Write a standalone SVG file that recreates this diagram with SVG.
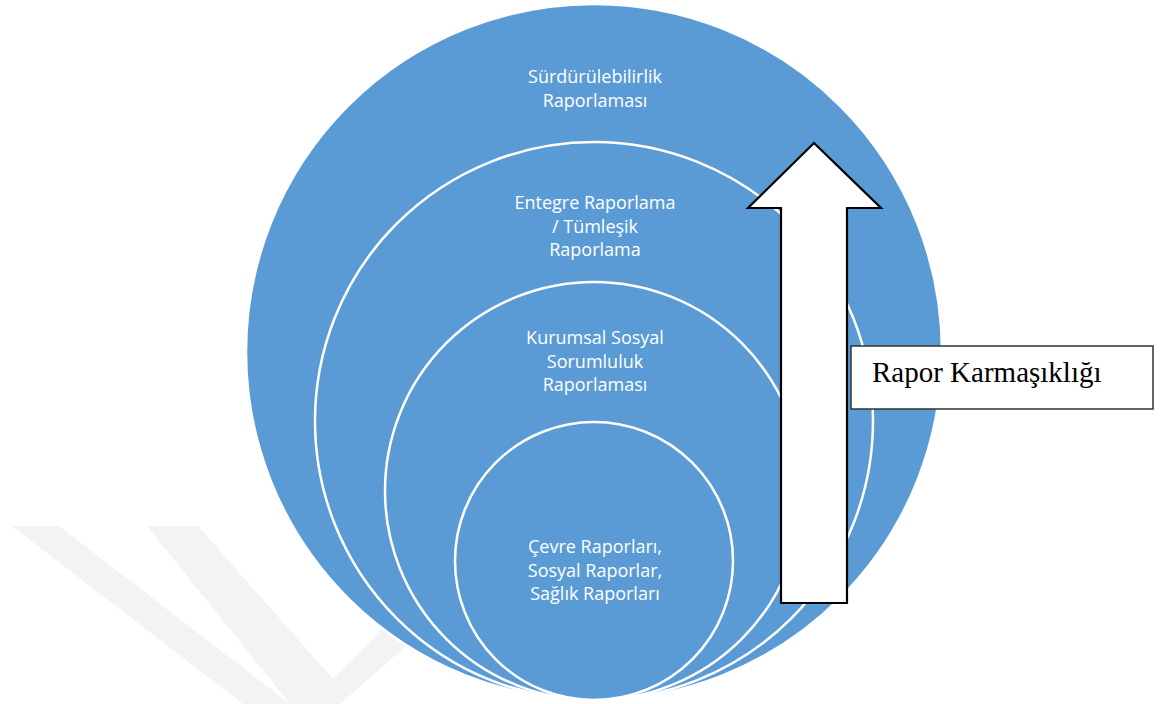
<svg xmlns="http://www.w3.org/2000/svg" width="1160" height="704" viewBox="0 0 1160 704">
  <style>
    .ring { fill: #5b9bd5; stroke: #ffffff; stroke-width: 2.5; }
    .lbl { font-family: "Open Sans", "Noto Sans", "Liberation Sans", sans-serif; font-size: 18px; fill: #ffffff; text-anchor: middle; }
    .wm { fill: #f3f3f3; }
    .note { font-family: "Liberation Serif", "Times New Roman", serif; font-size: 29px; fill: #000000; }
  </style>
  <rect x="0" y="0" width="1160" height="704" fill="#ffffff"/>
  <g id="watermark">
    <polygon class="wm" points="12,526 59,526 290,704 243,704"/>
    <polygon class="wm" points="147,526 198,526 333,679 420,590 470,590 340,704 290,704"/>
  </g>
  <g id="node-surdurulebilirlik">
    <circle class="ring" cx="594" cy="352" r="348" stroke="none"/>
    <text class="lbl" x="595" y="83">Sürdürülebilirlik</text>
    <text class="lbl" x="595" y="107">Raporlaması</text>
  </g>
  <g id="node-entegre">
    <circle class="ring" cx="594" cy="421" r="279"/>
    <text class="lbl" x="595" y="209">Entegre Raporlama</text>
    <text class="lbl" x="595" y="232.5">/ Tümleşik</text>
    <text class="lbl" x="595" y="256">Raporlama</text>
  </g>
  <g id="node-kurumsal">
    <circle class="ring" cx="594" cy="491" r="209"/>
    <text class="lbl" x="595" y="344">Kurumsal Sosyal</text>
    <text class="lbl" x="595" y="367.5">Sorumluluk</text>
    <text class="lbl" x="595" y="391">Raporlaması</text>
  </g>
  <g id="node-cevre">
    <circle class="ring" cx="594" cy="561" r="139"/>
    <text class="lbl" x="595" y="553">Çevre Raporları,</text>
    <text class="lbl" x="595" y="576.5">Sosyal Raporlar,</text>
    <text class="lbl" x="595" y="600">Sağlık Raporları</text>
  </g>
  <g id="connectors">
    <polygon points="814,143 881,208 847,208 847,603 781,603 781,208 748,208" fill="#ffffff" stroke="#000000" stroke-width="2.2" stroke-linejoin="miter"/>
  </g>
  <g id="node-rapor-karmasikligi">
    <rect x="851" y="346" width="302" height="63" fill="#ffffff" stroke="#333333" stroke-width="1.5"/>
    <text class="note" x="872" y="382">Rapor Karmaşıklığı</text>
  </g>
</svg>
